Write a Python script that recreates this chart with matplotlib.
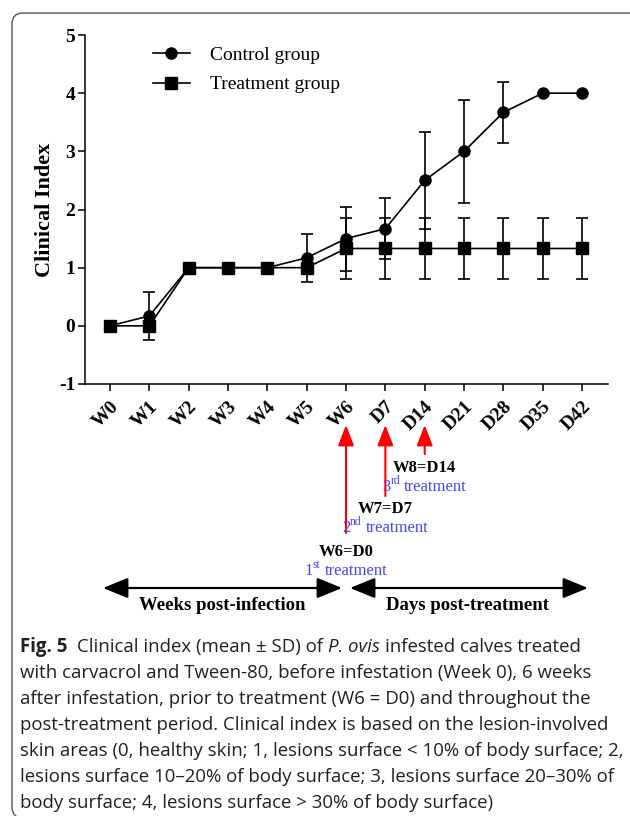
import numpy as np
import matplotlib
matplotlib.use('Agg')
import matplotlib.pyplot as plt
from matplotlib.patches import FancyBboxPatch, FancyArrowPatch
from matplotlib.transforms import IdentityTransform, blended_transform_factory

# Valeurs (indice clinique, moyenne +/- SD)
temps = ['W0', 'W1', 'W2', 'W3', 'W4', 'W5', 'W6', 'D7', 'D14', 'D21', 'D28', 'D35', 'D42']
controle_moy = [0, 0.17, 1, 1, 1, 1.17, 1.5, 1.67, 2.5, 3.0, 3.67, 4, 4]
controle_sd = [0, 0.41, 0, 0, 0, 0.41, 0.55, 0.52, 0.84, 0.89, 0.52, 0, 0]
traitement_moy = [0, 0, 1, 1, 1, 1, 1.33, 1.33, 1.33, 1.33, 1.33, 1.33, 1.33]
traitement_sd = [0, 0, 0, 0, 0, 0, 0.52, 0.52, 0.52, 0.52, 0.52, 0.52, 0.52]
yticks = [-1, 0, 1, 2, 3, 4, 5]

# Jours de traitement (fleches rouges)
jours_traitement = ['W6', 'D7', 'D14']
dates_traitement = ['W6=D0', 'W7=D7', 'W8=D14']
rangs_traitement = [[('1', 'normal'), ('st', 'sup'), (' treatment', 'normal')],
                    [('2', 'normal'), ('nd', 'sup'), (' treatment', 'normal')],
                    [('3', 'normal'), ('rd', 'sup'), (' treatment', 'normal')]]

# Legende de la figure : (texte, style)
legende_lignes = [
    [('Fig. 5', 'bold'), ('  Clinical index (mean ± SD) of ', 'normal'), ('P. ovis', 'italic'),
     (' infested calves treated', 'normal')],
    [('with carvacrol and Tween-80, before infestation (Week 0), 6 weeks', 'normal')],
    [('after infestation, prior to treatment (W6 = D0) and throughout the', 'normal')],
    [('post-treatment period. Clinical index is based on the lesion-involved', 'normal')],
    [('skin areas (0, healthy skin; 1, lesions surface < 10% of body surface; 2,', 'normal')],
    [('lesions surface 10–20% of body surface; 3, lesions surface 20–30% of', 'normal')],
    [('body surface; 4, lesions surface > 30% of body surface)', 'normal')],
]

W, H = 630, 816
SERIF = 'Liberation Serif'
SANS = 'Open Sans'

plt.rcParams['font.family'] = SERIF
plt.rcParams['axes.unicode_minus'] = False


def fy(ypix):
    return 1 - ypix / H


def ecrire_morceaux(fig, renderer, morceaux, x0, y0, famille, taille, couleur,
                    centre=False, dessiner=True):
    """Ecrit une ligne composee de morceaux de styles differents (pixels, origine en bas)"""
    if centre:
        largeur = ecrire_morceaux(fig, renderer, morceaux, 0, 0, famille, taille, couleur,
                                  dessiner=False)
        x0 = x0 - largeur / 2
    x = x0
    for texte, style in morceaux:
        avant = len(texte) - len(texte.lstrip(' '))
        apres = len(texte) - len(texte.rstrip(' '))
        kw = dict(family=famille, fontsize=taille, va='baseline', ha='left',
                  transform=IdentityTransform())
        dy = 0
        if style == 'bold':
            kw['fontweight'] = 'bold'
        if style == 'italic':
            kw['fontstyle'] = 'italic'
        if style == 'sup':
            kw['fontsize'] = taille * 0.7
            dy = taille * 0.4 * 100 / 72
        # largeur d'une espace
        a = fig.text(0, 0, 'a a', **kw)
        b = fig.text(0, 0, 'aa', **kw)
        esp = a.get_window_extent(renderer).width - b.get_window_extent(renderer).width
        a.remove()
        b.remove()
        x += avant * esp
        t = fig.text(x, y0 + dy, texte.strip(' '), color=couleur, **kw)
        x = t.get_window_extent(renderer).x1 + apres * esp
        if not dessiner:
            t.remove()
    return x - x0


fig = plt.figure(figsize=(W / 100, H / 100), dpi=100)
ax = fig.add_axes([85 / W, fy(384), (608 - 85) / W, (384 - 35) / H])

x = np.arange(len(temps))
cm, cs = np.array(controle_moy), np.array(controle_sd)
tm, ts = np.array(traitement_moy), np.array(traitement_sd)

m = cs > 0
ax.errorbar(x[m], cm[m], yerr=cs[m], fmt='none', ecolor='black', elinewidth=1.2,
            capsize=4.5, capthick=1.2, zorder=2)
m = ts > 0
ax.errorbar(x[m], tm[m], yerr=ts[m], fmt='none', ecolor='black', elinewidth=1.2,
            capsize=4.5, capthick=1.2, zorder=2)

ax.plot(x, cm, '-o', color='black', lw=1.2, ms=8, label='Control group', zorder=3)
ax.plot(x, tm, '-s', color='black', lw=1.2, ms=8, label='Treatment group', zorder=3)

ax.set_xlim(-0.636, 12.66)
ax.set_ylim(-1, 5)
ax.set_yticks(yticks)
ax.set_yticklabels([str(v) for v in yticks], fontweight='bold', fontsize=14)
ax.set_xticks(x)
ax.set_xticklabels(temps, fontweight='bold', fontsize=14, rotation=45,
                   ha='right', va='top', rotation_mode='anchor')
ax.tick_params(axis='both', length=5, width=1.1, color='black')
ax.tick_params(axis='x', pad=5)
ax.tick_params(axis='y', pad=2)
for s in ['top', 'right']:
    ax.spines[s].set_visible(False)
for s in ['left', 'bottom']:
    ax.spines[s].set_linewidth(1.1)
ax.set_ylabel('Clinical Index', fontweight='bold', fontsize=16, labelpad=3)

ax.legend(loc='upper left', bbox_to_anchor=(0.13, 0.968), frameon=False, fontsize=14,
          handlelength=1.9, handletextpad=1.05, labelspacing=0.62, borderpad=0,
          borderaxespad=0)

# Fleches rouges des traitements
tr = blended_transform_factory(ax.transData, ax.transAxes)
queues = [-0.427, -0.321, -0.2006]
y_dates = [-0.481, -0.358, -0.2407]
for jour, queue, yd, date in zip(jours_traitement, queues, y_dates, dates_traitement):
    i = temps.index(jour)
    ax.annotate('', xy=(i, -0.1175), xycoords=tr, xytext=(i, queue), textcoords=tr,
                arrowprops=dict(arrowstyle='-|>,head_length=0.9,head_width=0.35',
                                color='red', lw=1.5, mutation_scale=14,
                                shrinkA=0, shrinkB=0), annotation_clip=False)
    ax.text(i, yd, date, transform=tr, ha='center', va='center', fontsize=12,
            fontweight='bold', color='black')

# Doubles fleches : semaines / jours
for x1, x2 in [(103, 342), (350, 588)]:
    fig.add_artist(FancyArrowPatch(
        (x1 / W, fy(588)), (x2 / W, fy(588)), transform=fig.transFigure,
        arrowstyle='<|-|>,head_length=1.1,head_width=0.45', mutation_scale=14,
        color='black', lw=1.6, shrinkA=0, shrinkB=0))
fig.text(222 / W, fy(606), 'Weeks post-infection', ha='center', va='center',
         fontsize=13.5, fontweight='bold')
fig.text(468 / W, fy(606), 'Days post-treatment', ha='center', va='center',
         fontsize=13.5, fontweight='bold')

# Cadre arrondi (ouvert a droite et en bas, comme la page d'origine)
fig.add_artist(FancyBboxPatch((12, H - 818), 640, 805,
                              boxstyle='round,pad=0,rounding_size=11',
                              transform=IdentityTransform(), fill=False,
                              edgecolor='#555555', lw=1.0))

fig.canvas.draw()
renderer = fig.canvas.get_renderer()

# Rang du traitement (texte bleu avec exposant)
for jour, yd, rang in zip(jours_traitement, y_dates, rangs_traitement):
    i = temps.index(jour)
    px, py = tr.transform((i, yd - 0.052))
    ecrire_morceaux(fig, renderer, rang, px, py - 4.5, SERIF, 12, '#4545ff', centre=True)

# Legende de la figure
for k, morceaux in enumerate(legende_lignes):
    ecrire_morceaux(fig, renderer, morceaux, 20, H - (652 + 26 * k), SANS, 13.4, '#231f20')

fig.savefig('out.png', dpi=100)
